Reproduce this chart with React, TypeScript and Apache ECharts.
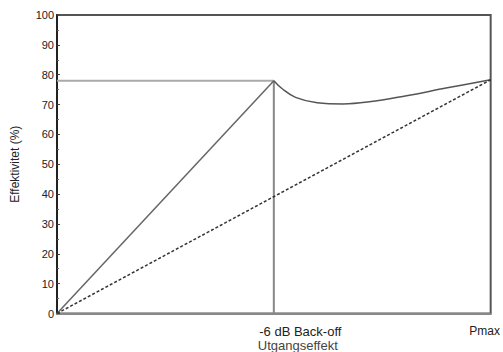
import React, { useEffect, useRef } from "react";
import * as echarts from "echarts";

const yTicks = [0, 10, 20, 30, 40, 50, 60, 70, 80, 90, 100];
const backOffX = 50;
const pmaxX = 100;
const backOffEff = 78;
const pmaxEff = 78.3;
const xLabelValues = [backOffX, pmaxX];
const xLabelLine1 = "-6 dB Back-off";
const xLabelLine2 = "Utgangseffekt";
const xLabelPmax = "Pmax";
const yName = "Effektivitet (%)";

const classBLine = [[0, 0], [backOffX, backOffEff]];
const refHorizontal = [[0, backOffEff], [backOffX, backOffEff]];
const refVertical = [[backOffX, 0], [backOffX, backOffEff]];
const dohertyCurve = [
  [50, 78], [52, 75.2], [55, 72.4], [60, 70.6], [66, 70.2], [72, 70.9], [80, 72.8], [90, 75.6], [100, 78.3],
];
const linearLine = [[0, 0], [pmaxX, pmaxEff]];

export default function App() {
  const ref = useRef<HTMLDivElement>(null);
  useEffect(() => {
    if (!ref.current) return;
    const chart = echarts.init(ref.current, null, { renderer: "svg" });
    const font = "'Liberation Sans', Arial, sans-serif";
    chart.setOption({
      animation: false,
      textStyle: { fontFamily: font },
      grid: { left: 57, right: 9, top: 15, bottom: 37, show: true, borderColor: "#555", borderWidth: 2 },
      xAxis: {
        type: "value",
        min: 0,
        max: pmaxX,
        splitLine: { show: false },
        axisTick: { show: false },
        axisLine: { lineStyle: { color: "#888", width: 2 } },
        axisLabel: {
          customValues: xLabelValues,
          margin: 11,
          color: "#222",
          fontSize: 12,
          fontFamily: font,
          formatter: (v: number) =>
            v === backOffX ? `{a|${xLabelLine1}}\n{b|${xLabelLine2}}` : `{p|${xLabelPmax}}`,
          rich: {
            a: { fontSize: 13, color: "#222", padding: [0, 0, 0, 53], lineHeight: 14, fontFamily: font },
            b: { fontSize: 13, color: "#444", padding: [0, 0, 0, 48], lineHeight: 14, fontFamily: font },
            p: { fontSize: 12, color: "#222", padding: [0, 12, 0, 0], fontFamily: font },
          },
        },
      },
      yAxis: {
        type: "value",
        min: 0,
        max: 100,
        interval: 10,
        name: yName,
        nameLocation: "middle",
        nameRotate: 90,
        nameGap: 36,
        nameTextStyle: { fontSize: 12, color: "#222", fontFamily: font },
        splitLine: { show: false },
        axisLine: { show: true, lineStyle: { color: "#222", width: 2 } },
        axisTick: { show: true, inside: true, length: 3, lineStyle: { color: "#444" } },
        minorTick: { show: true, splitNumber: 2, length: 2, lineStyle: { color: "#666" } },
        axisLabel: {
          margin: 3,
          color: "#222",
          fontSize: 11,
          fontFamily: font,
          formatter: (v: number) => (yTicks.includes(v) ? String(v) : ""),
        },
      },
      series: [
        { type: "line", data: refHorizontal, symbol: "none", lineStyle: { color: "#aaa", width: 2 } },
        { type: "line", data: refVertical, symbol: "none", lineStyle: { color: "#888", width: 2 } },
        { type: "line", data: classBLine, symbol: "none", lineStyle: { color: "#666", width: 1.5 } },
        { type: "line", data: dohertyCurve, symbol: "none", smooth: 0.4, lineStyle: { color: "#555", width: 1.5 } },
        { type: "line", data: linearLine, symbol: "none", lineStyle: { color: "#333", width: 1.5, type: [3, 2] } },
      ],
    });
    return () => chart.dispose();
  }, []);
  return <div ref={ref} style={{ position: "fixed", left: 0, top: 0, width: 503, height: 352, background: "#fff" }} />;
}
